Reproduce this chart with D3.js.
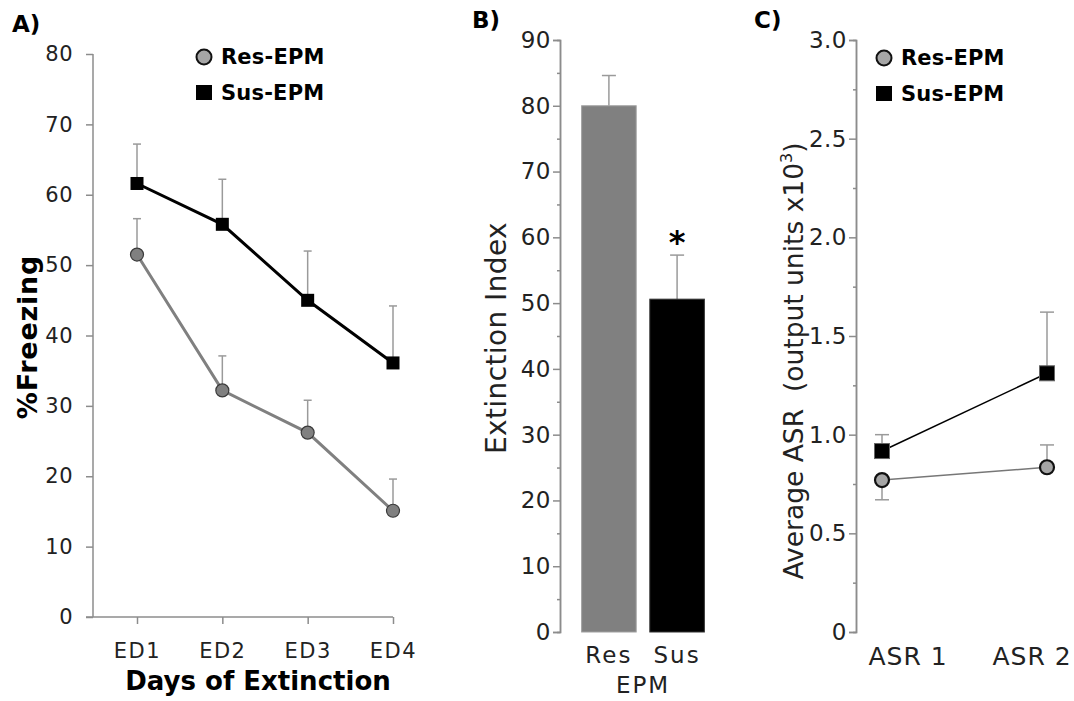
<!DOCTYPE html>
<html>
  <head>
    <style>
      body, html { margin: 0; padding: 0; background: #fff; }
      svg { display: block; font-family: "DejaVu Sans", Verdana, sans-serif; }
    </style>
  </head>
  <body>
    <svg id="svg" width="1074" height="701"></svg>
    <script src="https://cdn.jsdelivr.net/npm/d3@7"></script>
    <script>
      // panel A data
      const days = ['ED1', 'ED2', 'ED3', 'ED4'];
      const resFreeze = [51.5, 32.2, 26.2, 15.1];
      const resFreezeErr = [5.1, 4.9, 4.6, 4.5];
      const susFreeze = [61.6, 55.8, 45.0, 36.1];
      const susFreezeErr = [5.6, 6.4, 7.0, 8.1];
      const freezeTicks = [0, 10, 20, 30, 40, 50, 60, 70, 80];

      // panel B data
      const groups = ['Res', 'Sus'];
      const extIndex = [80.0, 50.6];
      const extIndexErr = [4.6, 6.7];
      const extTicks = [0, 10, 20, 30, 40, 50, 60, 70, 80, 90];

      // panel C data
      const sessions = ['ASR 1', 'ASR 2'];
      const resAsr = [0.77, 0.835];
      const resAsrErr = [-0.1, 0.113];
      const susAsr = [0.917, 1.311];
      const susAsrErr = [0.083, 0.31];
      const asrTicks = [0, 0.5, 1.0, 1.5, 2.0, 2.5, 3.0];

      const svg = d3.select('#svg');
      const axisCol = '#8c8c8c';
      const errCol = '#9a9a9a';

      const styleAxis = (g, size, spacing) => {
        g.select('.domain').attr('stroke', axisCol).attr('stroke-width', 1.5);
        g.selectAll('.tick line').attr('stroke', axisCol).attr('stroke-width', 1.5);
        g.selectAll('.tick text')
          .attr('fill', '#222')
          .attr('font-size', size)
          .attr('letter-spacing', spacing || 0)
          .attr('font-family', '"DejaVu Sans", Verdana, sans-serif');
      };

      const drawErr = (g, x, y0, y1, w) => {
        g.append('line').attr('x1', x).attr('x2', x).attr('y1', y0).attr('y2', y1)
          .attr('stroke', errCol).attr('stroke-width', 1.5);
        g.append('line').attr('x1', x - w / 2).attr('x2', x + w / 2).attr('y1', y1).attr('y2', y1)
          .attr('stroke', errCol).attr('stroke-width', 1.5);
      };

      const legend = (g, x, y) => {
        g.append('circle').attr('cx', x + 4).attr('cy', y).attr('r', 7.5)
          .attr('fill', '#a6a6a6').attr('stroke', '#111').attr('stroke-width', 2);
        g.append('text').attr('x', x + 21).attr('y', y + 7).text('Res-EPM')
          .attr('font-weight', 'bold').attr('font-size', 21).attr('letter-spacing', 0.2);
        g.append('rect').attr('x', x - 4).attr('y', y + 28).attr('width', 16).attr('height', 15).attr('fill', '#000');
        g.append('text').attr('x', x + 21).attr('y', y + 43).text('Sus-EPM')
          .attr('font-weight', 'bold').attr('font-size', 21).attr('letter-spacing', 0.2);
      };

      // ---------- Panel A ----------
      const gA = svg.append('g');
      const xA = d3.scalePoint().domain(days).range([137, 393]);
      const yA = d3.scaleLinear().domain([0, 80]).range([617, 54]);

      gA.append('g').attr('transform', 'translate(93,0)')
        .call(d3.axisLeft(yA).tickValues(freezeTicks).tickSize(7).tickPadding(13).tickFormat(d3.format('d')))
        .call((g) => styleAxis(g, 21, 0.5))
        .call((g) => g.select('.domain').attr('d', `M0,${yA(80)}V${yA(0)}`));
      gA.append('line').attr('x1', 86).attr('x2', 393).attr('y1', yA(0)).attr('y2', yA(0))
        .attr('stroke', axisCol).attr('stroke-width', 1.5);
      gA.append('g').attr('transform', `translate(0,${yA(0)})`)
        .call(d3.axisBottom(xA).tickSize(7).tickPadding(19))
        .call((g) => styleAxis(g, 21, 1.5))
        .call((g) => g.select('.domain').remove());

      days.forEach((d, i) => {
        drawErr(gA, xA(d), yA(susFreeze[i]), yA(susFreeze[i] + susFreezeErr[i]), 8);
        drawErr(gA, xA(d), yA(resFreeze[i]), yA(resFreeze[i] + resFreezeErr[i]), 8);
      });

      const lineA = (vals) => d3.line().x((d, i) => xA(days[i])).y((d) => yA(d))(vals);
      gA.append('path').attr('d', lineA(resFreeze)).attr('fill', 'none')
        .attr('stroke', '#808080').attr('stroke-width', 3);
      gA.append('path').attr('d', lineA(susFreeze)).attr('fill', 'none')
        .attr('stroke', '#000').attr('stroke-width', 3);
      gA.selectAll('.resPt').data(resFreeze).join('circle')
        .attr('cx', (d, i) => xA(days[i])).attr('cy', (d) => yA(d)).attr('r', 6.5)
        .attr('fill', '#808080').attr('stroke', '#3a3a3a').attr('stroke-width', 1.2);
      gA.selectAll('.susPt').data(susFreeze).join('rect')
        .attr('x', (d, i) => xA(days[i]) - 6.5).attr('y', (d) => yA(d) - 6.5)
        .attr('width', 13).attr('height', 13).attr('fill', '#000');

      legend(gA, 200, 57);

      gA.append('text').attr('x', 12).attr('y', 32).text('A)')
        .attr('font-weight', 'bold').attr('font-size', 23);
      gA.append('text').attr('transform', 'translate(37,337) rotate(-90)')
        .attr('text-anchor', 'middle').text('%Freezing')
        .attr('font-weight', 'bold').attr('font-size', 27).attr('letter-spacing', 0.8);
      gA.append('text').attr('x', 258).attr('y', 690).attr('text-anchor', 'middle')
        .text('Days of Extinction').attr('font-weight', 'bold').attr('font-size', 26);

      // ---------- Panel B ----------
      const gB = svg.append('g');
      const xB = d3.scaleBand().domain(groups).range([568, 718]).paddingInner(0.2).paddingOuter(0.2);
      const yB = d3.scaleLinear().domain([0, 90]).range([632, 40]);

      gB.append('g').attr('transform', 'translate(560,0)')
        .call(d3.axisLeft(yB).tickValues(d3.range(5, 90, 10)).tickSize(3).tickFormat(''))
        .call((g) => styleAxis(g, 22));
      gB.append('g').attr('transform', 'translate(560,0)')
        .call(d3.axisLeft(yB).tickValues(extTicks).tickSize(7).tickPadding(2))
        .call((g) => styleAxis(g, 23, 0.5));

      groups.forEach((d, i) => {
        const cx = xB(d) + xB.bandwidth() / 2;
        drawErr(gB, cx, yB(extIndex[i]), yB(extIndex[i] + extIndexErr[i]), 14);
      });
      gB.selectAll('.bar').data(extIndex).join('rect')
        .attr('x', (d, i) => xB(groups[i])).attr('y', (d) => yB(d))
        .attr('width', xB.bandwidth()).attr('height', (d) => yB(0) - yB(d))
        .attr('fill', (d, i) => (i === 0 ? '#808080' : '#000'))
        .attr('stroke', (d, i) => (i === 0 ? '#a0a0a0' : '#333')).attr('stroke-width', 1);

      gB.append('g').attr('transform', `translate(0,${yB(0)})`)
        .call(d3.axisBottom(xB).tickSize(0).tickPadding(15))
        .call((g) => styleAxis(g, 23, 2))
        .call((g) => g.select('.domain').remove());
      gB.append('text').attr('x', (xB('Res') + xB('Sus') + xB.bandwidth()) / 2).attr('y', 693)
        .attr('text-anchor', 'middle').text('EPM').attr('font-size', 23)
        .attr('letter-spacing', 2).attr('fill', '#222');
      const sx = xB('Sus') + xB.bandwidth() / 2;
      gB.append('text').attr('x', sx).attr('y', yB(extIndex[1] + extIndexErr[1]) - 2)
        .attr('text-anchor', 'middle').text('*').attr('font-weight', 'bold').attr('font-size', 32);
      gB.append('text').attr('x', 472).attr('y', 28).text('B)')
        .attr('font-weight', 'bold').attr('font-size', 23);
      gB.append('text').attr('transform', 'translate(506,338) rotate(-90)')
        .attr('text-anchor', 'middle').text('Extinction Index').attr('font-size', 28)
        .attr('letter-spacing', 0.4).attr('fill', '#222');

      // ---------- Panel C ----------
      const gC = svg.append('g');
      const xC = d3.scalePoint().domain(sessions).range([882, 1047]);
      const xCLab = d3.scaleBand().domain(sessions).range([846, 1094]);
      const yC = d3.scaleLinear().domain([0, 3]).range([632, 40]);

      gC.append('g').attr('transform', 'translate(856,0)')
        .call(d3.axisLeft(yC).tickValues(d3.range(0.25, 3, 0.5)).tickSize(3).tickFormat(''))
        .call((g) => styleAxis(g, 22));
      gC.append('g').attr('transform', 'translate(856,0)')
        .call(d3.axisLeft(yC).tickValues(asrTicks).tickSize(7).tickPadding(2)
          .tickFormat((d) => (d === 0 ? '0' : d3.format('.1f')(d))))
        .call((g) => styleAxis(g, 23, 0.5));
      gC.append('g').attr('transform', `translate(0,${yC(0)})`)
        .call(d3.axisBottom(xCLab).tickSize(0).tickPadding(15))
        .call((g) => styleAxis(g, 25, 1))
        .call((g) => g.select('.domain').remove());

      sessions.forEach((d, i) => {
        drawErr(gC, xC(d), yC(susAsr[i]), yC(susAsr[i] + susAsrErr[i]), 14);
        drawErr(gC, xC(d), yC(resAsr[i]), yC(resAsr[i] + resAsrErr[i]), 14);
      });
      const lineC = (vals) => d3.line().x((d, i) => xC(sessions[i])).y((d) => yC(d))(vals);
      gC.append('path').attr('d', lineC(resAsr)).attr('fill', 'none')
        .attr('stroke', '#777').attr('stroke-width', 1.5);
      gC.append('path').attr('d', lineC(susAsr)).attr('fill', 'none')
        .attr('stroke', '#000').attr('stroke-width', 1.5);
      gC.selectAll('.resPt').data(resAsr).join('circle')
        .attr('cx', (d, i) => xC(sessions[i])).attr('cy', (d) => yC(d)).attr('r', 7)
        .attr('fill', '#a6a6a6').attr('stroke', '#111').attr('stroke-width', 2.2);
      gC.selectAll('.susPt').data(susAsr).join('rect')
        .attr('x', (d, i) => xC(sessions[i]) - 7.5).attr('y', (d) => yC(d) - 7.5)
        .attr('width', 15).attr('height', 15).attr('fill', '#000')
        .attr('stroke', '#666').attr('stroke-width', 1);

      legend(gC, 880, 58);

      gC.append('text').attr('x', 754).attr('y', 28).text('C)')
        .attr('font-weight', 'bold').attr('font-size', 23);
      const yt = gC.append('text').attr('transform', 'translate(803,361) rotate(-90)')
        .attr('text-anchor', 'middle').attr('font-size', 26.5).attr('fill', '#222')
        .attr('xml:space', 'preserve').style('white-space', 'pre');
      yt.append('tspan').text('Average ASR  (output units x10');
      yt.append('tspan').attr('dy', -11).attr('font-size', 16).text('3');
      yt.append('tspan').attr('dy', 11).text(')');
    </script>
  </body>
</html>
